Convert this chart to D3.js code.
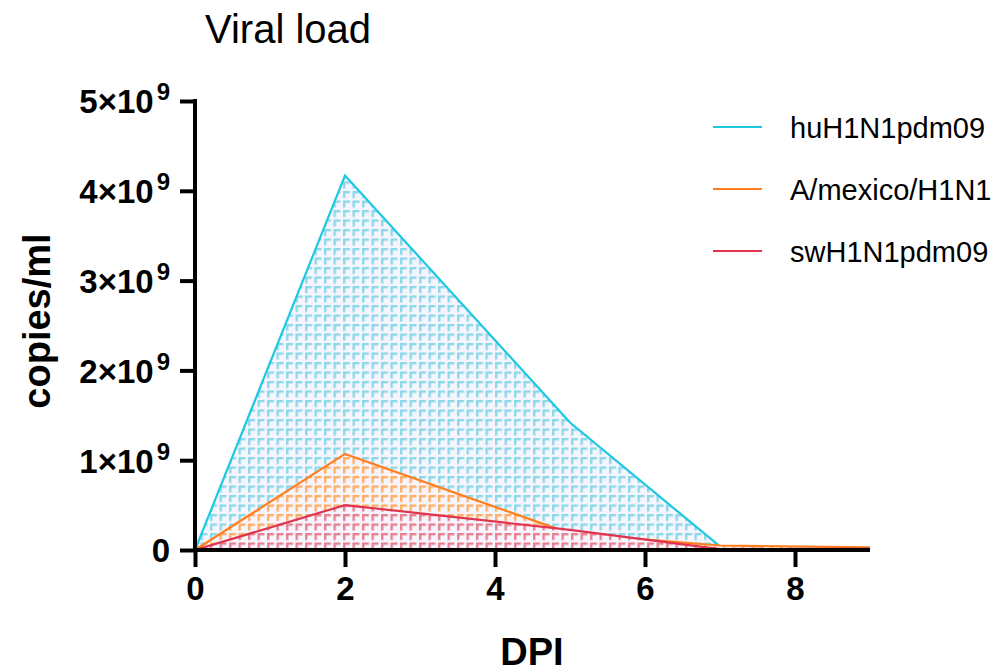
<!DOCTYPE html>
<html>
<head>
<meta charset="utf-8">
<script src="https://cdn.jsdelivr.net/npm/d3@7"></script>
<style>
  body { margin: 0; background: #fff; }
  text { font-family: "Liberation Sans", Arial, Helvetica, sans-serif; }
</style>
</head>
<body>
<script>
// data
var dpi = [0, 2, 5, 7, 9];
var huH1N1pdm09 = [0, 4.17e9, 1.42e9, 0.04e9, 0.02e9];
var mexicoH1N1 = [0, 1.07e9, 0.185e9, 0.05e9, 0.03e9];
var swH1N1pdm09 = [0, 0.5e9, 0.225e9, 0.01e9, 0.015e9];
var seriesNames = ["huH1N1pdm09", "A/mexico/H1N1", "swH1N1pdm09"];
var yTicks = [0, 1e9, 2e9, 3e9, 4e9, 5e9];
var xTicks = [0, 2, 4, 6, 8];

function main() {
  var w = 1001, h = 672;
  var left = 195, top = 101, right = 870, bottom = 550;

  var colors = ["#1ec8e2", "#ff7f1e", "#e0344e"];
  var patColors = ["#8ad9e8", "#ffae62", "#e8808e"];
  var allSeries = [huH1N1pdm09, mexicoH1N1, swH1N1pdm09];

  var svg = d3.select("body").append("svg")
    .attr("width", w).attr("height", h);

  // hatch-like patterns, one per series
  var defs = svg.append("defs");
  patColors.forEach(function(c, i) {
    var p = defs.append("pattern")
      .attr("id", "pat" + i)
      .attr("patternUnits", "userSpaceOnUse")
      .attr("width", 9.5).attr("height", 9.5);
    p.append("rect").attr("width", 9.5).attr("height", 9.5).attr("fill", "#f6f5fe");
    p.append("path")
      .attr("d", "M2.2,8V2.2H8")
      .attr("fill", "none")
      .attr("stroke", c)
      .attr("stroke-width", 2.4);
  });

  var x = d3.scaleLinear().domain([0, 9]).range([left, right]);
  var y = d3.scaleLinear().domain([0, 5e9]).range([bottom, top]);

  var area = d3.area()
    .x(function(d) { return x(d.x); })
    .y0(y(0))
    .y1(function(d) { return y(d.y); });
  var line = d3.line()
    .x(function(d) { return x(d.x); })
    .y(function(d) { return y(d.y); });

  allSeries.forEach(function(vals, i) {
    var pts = dpi.map(function(d, j) { return { x: d, y: vals[j] }; });
    svg.append("path").datum(pts)
      .attr("d", area)
      .attr("fill", "url(#pat" + i + ")");
    svg.append("path").datum(pts)
      .attr("d", line)
      .attr("fill", "none")
      .attr("stroke", colors[i])
      .attr("stroke-width", 2.2);
  });

  // y axis
  var yAxis = svg.append("g")
    .attr("transform", "translate(" + left + ",0)")
    .call(d3.axisLeft(y).tickValues(yTicks).tickSize(15).tickSizeOuter(0).tickPadding(10));
  yAxis.select(".domain").attr("stroke", "#000").attr("stroke-width", 4)
    .attr("d", "M0," + (top - 2) + "V" + (bottom + 2));
  yAxis.selectAll(".tick line").attr("stroke", "#000").attr("stroke-width", 4);
  yAxis.selectAll(".tick text")
    .attr("font-size", 33).attr("font-weight", "bold").attr("fill", "#000")
    .attr("dy", "0.36em")
    .text(null)
    .each(function(d) {
      var t = d3.select(this);
      if (d === 0) { t.text("0"); return; }
      t.append("tspan").text((d / 1e9) + "×10");
      t.append("tspan").attr("font-size", 24).attr("dx", 3).attr("dy", -13).text("9");
    });

  // x axis
  var xAxis = svg.append("g")
    .attr("transform", "translate(0," + bottom + ")")
    .call(d3.axisBottom(x).tickValues(xTicks).tickSize(17).tickSizeOuter(0).tickPadding(10));
  xAxis.select(".domain").attr("stroke", "#000").attr("stroke-width", 4)
    .attr("d", "M" + (left - 2) + ",0H" + right);
  xAxis.selectAll(".tick line").attr("stroke", "#000").attr("stroke-width", 4);
  xAxis.selectAll(".tick text")
    .attr("font-size", 33).attr("font-weight", "bold").attr("fill", "#000");

  // titles
  svg.append("text").attr("x", 205).attr("y", 43)
    .attr("font-size", 40).text("Viral load");
  svg.append("text")
    .attr("transform", "translate(50,321) rotate(-90)")
    .attr("text-anchor", "middle")
    .attr("font-size", 38).attr("font-weight", "bold")
    .text("copies/ml");
  svg.append("text").attr("x", 532).attr("y", 665)
    .attr("text-anchor", "middle")
    .attr("font-size", 38).attr("font-weight", "bold")
    .text("DPI");

  // legend
  var legend = svg.selectAll(".leg").data(seriesNames).enter().append("g")
    .attr("transform", function(d, i) { return "translate(713," + (127 + i * 62) + ")"; });
  legend.append("line")
    .attr("x1", 0).attr("x2", 49)
    .attr("stroke", function(d, i) { return colors[i]; })
    .attr("stroke-width", 2.2);
  legend.append("text")
    .attr("x", 77).attr("y", 11)
    .attr("font-size", 29)
    .text(function(d) { return d; });
}

window.onload = function() {
  main();
};
</script>
</body>
</html>
